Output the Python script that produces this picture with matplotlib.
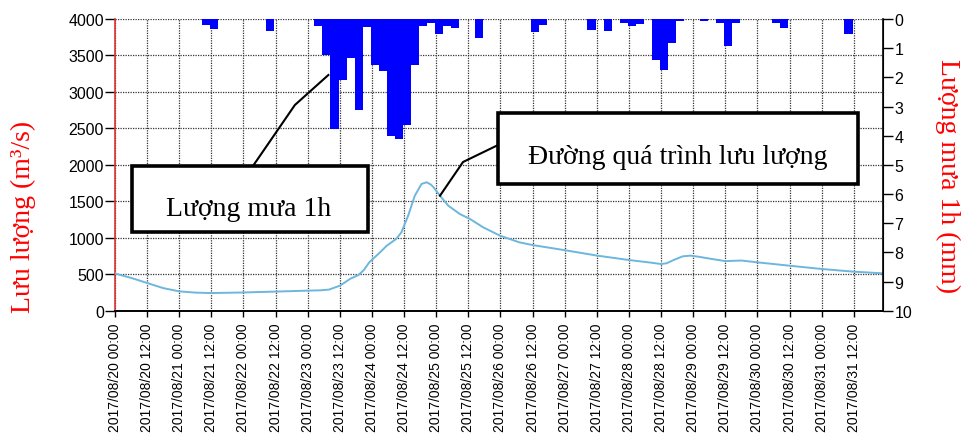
import matplotlib
matplotlib.use("Agg")
import matplotlib.pyplot as plt
from matplotlib.patches import Rectangle
from datetime import datetime, timedelta

# ---------------- data ----------------
start_time = datetime(2017, 8, 20, 0, 0)

# discharge (m3/s) at hours since 2017/08/20 00:00
q_hours = [0, 6, 12, 18, 24, 30, 36, 48, 60, 72, 77, 80, 84, 88, 91, 93, 95, 99, 101.5,
           105, 107, 109.5, 112, 114.5, 116.4, 118, 119, 121.4, 124.5, 128.8, 132.6,
           137.5, 143.8, 151, 156, 162, 168, 180, 192, 200, 204, 206, 209, 212, 215,
           218, 222, 228, 234, 240, 252, 264, 276, 287]
q_values = [510, 450, 380, 310, 265, 248, 242, 250, 262, 275, 280, 290, 343, 440, 490,
            560, 664, 800, 891, 983, 1075, 1303, 1577, 1738, 1761, 1730, 1692, 1577, 1440,
            1326, 1258, 1144, 1029, 938, 900, 865, 830, 756, 695, 660, 640, 650, 700, 745,
            755, 740, 715, 680, 688, 663, 617, 572, 535, 512]

# rainfall (mm), bars centred at hours since start, 3 h wide
rain_hours = [34, 37, 58, 76, 79, 82, 85, 88, 91, 94, 97, 100, 103, 106, 109, 112, 115,
              118, 121, 124, 127, 136, 157, 160, 178, 184, 190, 193, 196, 202, 205, 208,
              211, 220, 226, 229, 232, 247, 250, 274]
rain_mm = [0.2, 0.35, 0.42, 0.25, 1.25, 3.78, 2.1, 1.33, 3.13, 0.27, 1.56, 1.79, 4.0,
           4.1, 3.64, 1.56, 0.23, 0.12, 0.51, 0.23, 0.31, 0.65, 0.46, 0.2, 0.36, 0.42,
           0.14, 0.23, 0.16, 1.39, 1.75, 0.82, 0.08, 0.08, 0.14, 0.91, 0.14, 0.14, 0.31,
           0.5]

tick_hours = list(range(0, 277, 12))
tick_labels = [(start_time + timedelta(hours=h)).strftime("%Y/%m/%d %H:%M") for h in tick_hours]
left_ticks = list(range(0, 4001, 500))
right_ticks = list(range(0, 11))

label_left = "Lưu lượng (m³/s)"
label_right = "Lượng mưa 1h (mm)"
box1_text = "Lượng mưa 1h"
box2_text = "Đường quá trình lưu lượng"

# ---------------- figure ----------------
sans = ["Liberation Sans", "DejaVu Sans"]
serif = ["Liberation Serif", "DejaVu Serif"]
plt.rcParams["font.family"] = sans

fig = plt.figure(figsize=(9.62, 4.39), dpi=100)
ax = fig.add_axes([115 / 962, 1 - 311.7 / 439, (883.3 - 115) / 962, (311.7 - 20) / 439])
ax2 = ax.twinx()

ax.plot(q_hours, q_values, color="#6DB6DE", lw=1.4, zorder=3)
ax.set_xlim(0, 287)
ax.set_ylim(0, 4000)
ax.set_yticks(left_ticks)
ax.set_xticks(tick_hours)
ax.set_xticklabels(tick_labels, rotation=90, fontsize=10)
ax.tick_params(axis="y", labelsize=11.5, length=7, width=1, pad=1, colors="black")
ax.tick_params(axis="x", length=4.5, width=1, pad=4, colors="black")
ax.grid(True, color="#333333", linestyle=(0, (1, 1)), linewidth=0.9)
ax.set_axisbelow(True)
ax.spines["top"].set_visible(False)
ax.spines["left"].set_color("#E03030")
ax.spines["left"].set_linewidth(1.2)
ax.spines["bottom"].set_linewidth(1.2)

ax2.bar(rain_hours, rain_mm, width=3, color="#0000FF", edgecolor="none", zorder=2)
ax2.set_ylim(10, 0)
ax2.set_yticks(right_ticks)
ax2.tick_params(axis="y", labelsize=11.5, length=7, width=1, pad=1, colors="black")
ax2.spines["top"].set_visible(False)
ax2.spines["left"].set_visible(False)
ax2.spines["right"].set_linewidth(1.2)
ax2.spines["bottom"].set_linewidth(1.2)

# axis titles
fig.text(23 / 962, 1 - 216.5 / 439, label_left, rotation=90, ha="center", va="center",
         color="red", fontsize=20, family=serif)
fig.text(948 / 962, 1 - 176 / 439, label_right, rotation=270, ha="center", va="center",
         color="red", fontsize=20, family=serif)

# annotation boxes (left-axis data coordinates)
box1 = Rectangle((6.2, 1075), 94.5 - 6.2, 1988 - 1075, facecolor="white",
                 edgecolor="black", lw=2.6, zorder=10, clip_on=False)
ax.add_patch(box1)
ax.text(49.8, 1400, box1_text, ha="center", va="center", fontsize=20, family=serif,
        zorder=11)
ax.plot([51.6, 67.2, 79.7], [1988, 2821, 3232], color="black", lw=1.5, zorder=9)

box2 = Rectangle((143.1, 1738), 277.6 - 143.1, 2707 - 1738, facecolor="white",
                 edgecolor="black", lw=2.6, zorder=10, clip_on=False)
ax.add_patch(box2)
ax.text(210.3, 2120, box2_text, ha="center", va="center", fontsize=20, family=serif,
        zorder=11)
ax.plot([121.4, 130, 143.1], [1577, 2039, 2272], color="black", lw=1.5, zorder=9)

fig.savefig("out.png", dpi=100)
